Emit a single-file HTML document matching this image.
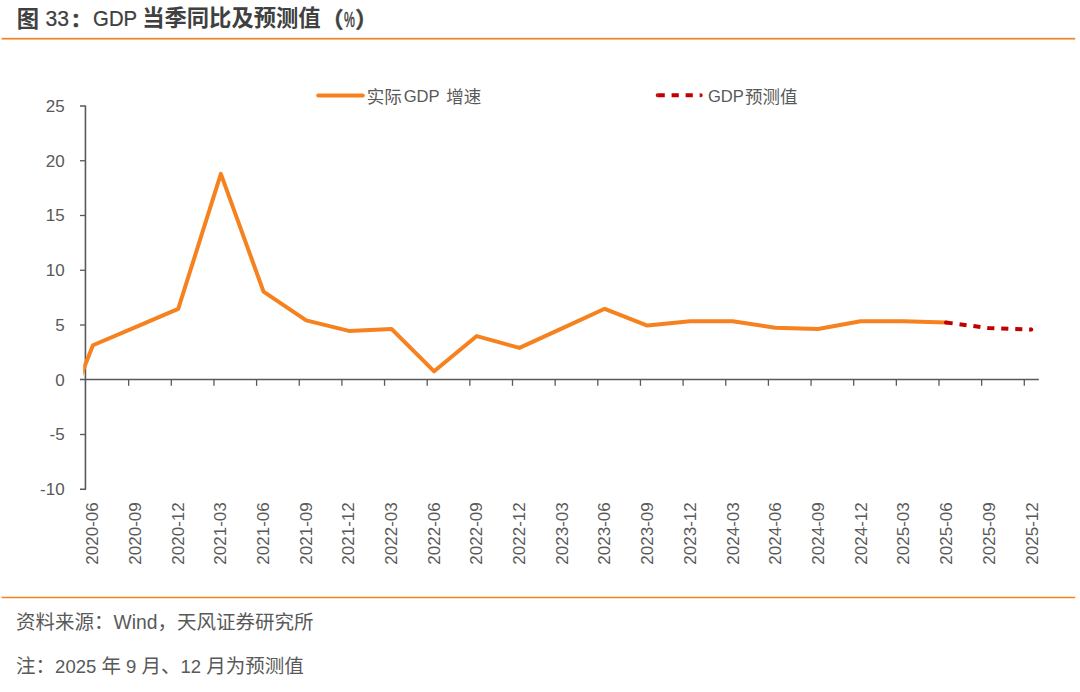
<!DOCTYPE html>
<html><head><meta charset="utf-8"><title>图 33：GDP 当季同比及预测值（%）</title>
<style>
html,body{margin:0;padding:0;background:#fff;}
body{width:1080px;height:692px;position:relative;overflow:hidden;}
.chart{position:absolute;left:0;top:0;display:block;}
</style></head><body>
<svg class="chart" width="1080" height="692" viewBox="0 0 1080 692">
<defs><clipPath id="pa"><rect x="83.2" y="60" width="960" height="440"/></clipPath></defs>
<rect x="1.6" y="37.85" width="1073.6" height="1.7" fill="#F5821F"/>
<rect x="1.6" y="596.75" width="1073.6" height="1.5" fill="#F5821F"/>
<g stroke="#57595c" fill="none" stroke-linecap="butt">
<path d="M80,106.00 H85.44 V489.25 H80" stroke-width="1.6" stroke-linejoin="round"/>
<line x1="80" y1="434.50" x2="85.44" y2="434.50" stroke-width="1.3"/>
<line x1="80" y1="325.00" x2="85.44" y2="325.00" stroke-width="1.3"/>
<line x1="80" y1="270.25" x2="85.44" y2="270.25" stroke-width="1.3"/>
<line x1="80" y1="215.50" x2="85.44" y2="215.50" stroke-width="1.3"/>
<line x1="80" y1="160.75" x2="85.44" y2="160.75" stroke-width="1.3"/>
<line x1="80" y1="379.45" x2="1038.8" y2="379.45" stroke-width="1.6"/>
<line x1="128.65" y1="379.45" x2="128.65" y2="385.8" stroke-width="1.3"/>
<line x1="171.30" y1="379.45" x2="171.30" y2="385.8" stroke-width="1.3"/>
<line x1="213.95" y1="379.45" x2="213.95" y2="385.8" stroke-width="1.3"/>
<line x1="256.60" y1="379.45" x2="256.60" y2="385.8" stroke-width="1.3"/>
<line x1="299.25" y1="379.45" x2="299.25" y2="385.8" stroke-width="1.3"/>
<line x1="341.90" y1="379.45" x2="341.90" y2="385.8" stroke-width="1.3"/>
<line x1="384.55" y1="379.45" x2="384.55" y2="385.8" stroke-width="1.3"/>
<line x1="427.20" y1="379.45" x2="427.20" y2="385.8" stroke-width="1.3"/>
<line x1="469.85" y1="379.45" x2="469.85" y2="385.8" stroke-width="1.3"/>
<line x1="512.50" y1="379.45" x2="512.50" y2="385.8" stroke-width="1.3"/>
<line x1="555.15" y1="379.45" x2="555.15" y2="385.8" stroke-width="1.3"/>
<line x1="597.80" y1="379.45" x2="597.80" y2="385.8" stroke-width="1.3"/>
<line x1="640.45" y1="379.45" x2="640.45" y2="385.8" stroke-width="1.3"/>
<line x1="683.10" y1="379.45" x2="683.10" y2="385.8" stroke-width="1.3"/>
<line x1="725.75" y1="379.45" x2="725.75" y2="385.8" stroke-width="1.3"/>
<line x1="768.40" y1="379.45" x2="768.40" y2="385.8" stroke-width="1.3"/>
<line x1="811.05" y1="379.45" x2="811.05" y2="385.8" stroke-width="1.3"/>
<line x1="853.70" y1="379.45" x2="853.70" y2="385.8" stroke-width="1.3"/>
<line x1="896.35" y1="379.45" x2="896.35" y2="385.8" stroke-width="1.3"/>
<line x1="939.00" y1="379.45" x2="939.00" y2="385.8" stroke-width="1.3"/>
<line x1="981.65" y1="379.45" x2="981.65" y2="385.8" stroke-width="1.3"/>
<line x1="1024.30" y1="379.45" x2="1024.30" y2="385.8" stroke-width="1.3"/>
</g>
<path d="M50.27,454.21 L92.92,345.26 L135.57,327.19 L178.22,308.90 L220.87,173.89 L263.52,291.60 L306.17,320.40 L348.82,330.91 L391.47,328.94 L434.12,371.32 L476.77,336.06 L519.42,347.89 L562.07,328.39 L604.72,308.79 L647.37,325.55 L690.02,321.28 L732.67,321.28 L775.32,327.74 L817.97,329.05 L860.62,321.28 L903.27,321.28 L945.92,322.48" fill="none" stroke="#F5821F" stroke-width="4" stroke-linejoin="round" stroke-linecap="butt" clip-path="url(#pa)"/>
<path d="M945.92,322.48 L988.57,328.07 L1031.22,329.60" fill="none" stroke="#C00000" stroke-width="4" stroke-dasharray="7.1 6.9" stroke-dashoffset="0.3" stroke-linejoin="round" stroke-linecap="butt"/>
<circle cx="945.92" cy="322.48" r="2" fill="#C00000"/>
<circle cx="1031.22" cy="329.60" r="2" fill="#C00000"/>
<g font-family="Liberation Sans, Arial, sans-serif" font-size="17" fill="#595959" text-anchor="end">
<text x="64.6" y="495.05">-10</text>
<text x="64.6" y="440.30">-5</text>
<text x="64.6" y="385.55">0</text>
<text x="64.6" y="330.80">5</text>
<text x="64.6" y="276.05">10</text>
<text x="64.6" y="221.30">15</text>
<text x="64.6" y="166.55">20</text>
<text x="64.6" y="111.80">25</text>
</g>
<g font-family="Liberation Sans, Arial, sans-serif" font-size="17" fill="#595959" text-anchor="end">
<text transform="translate(98.42,502.3) rotate(-90)">2020-06</text>
<text transform="translate(141.07,502.3) rotate(-90)">2020-09</text>
<text transform="translate(183.72,502.3) rotate(-90)">2020-12</text>
<text transform="translate(226.37,502.3) rotate(-90)">2021-03</text>
<text transform="translate(269.02,502.3) rotate(-90)">2021-06</text>
<text transform="translate(311.67,502.3) rotate(-90)">2021-09</text>
<text transform="translate(354.32,502.3) rotate(-90)">2021-12</text>
<text transform="translate(396.97,502.3) rotate(-90)">2022-03</text>
<text transform="translate(439.62,502.3) rotate(-90)">2022-06</text>
<text transform="translate(482.27,502.3) rotate(-90)">2022-09</text>
<text transform="translate(524.92,502.3) rotate(-90)">2022-12</text>
<text transform="translate(567.57,502.3) rotate(-90)">2023-03</text>
<text transform="translate(610.31,502.3) rotate(-90)">2023-06</text>
<text transform="translate(653.05,502.3) rotate(-90)">2023-09</text>
<text transform="translate(695.79,502.3) rotate(-90)">2023-12</text>
<text transform="translate(738.53,502.3) rotate(-90)">2024-03</text>
<text transform="translate(781.27,502.3) rotate(-90)">2024-06</text>
<text transform="translate(824.01,502.3) rotate(-90)">2024-09</text>
<text transform="translate(866.75,502.3) rotate(-90)">2024-12</text>
<text transform="translate(909.49,502.3) rotate(-90)">2025-03</text>
<text transform="translate(952.23,502.3) rotate(-90)">2025-06</text>
<text transform="translate(994.97,502.3) rotate(-90)">2025-09</text>
<text transform="translate(1037.71,502.3) rotate(-90)">2025-12</text>
</g>
<line x1="318.2" y1="95.4" x2="362.8" y2="95.4" stroke="#F5821F" stroke-width="4" stroke-linecap="round"/>
<line x1="657.6" y1="95.2" x2="700.8" y2="95.2" stroke="#C00000" stroke-width="4" stroke-dasharray="7.2 6.8"/>
<path d="M657.7,97.2 A2,2 0 0 1 657.7,93.2 Z M700.7,93.2 A2,2 0 0 1 700.7,97.2 Z" fill="#C00000"/>
<g fill="#595959">
<text x="366.8" y="103.2" font-family="Liberation Sans, Noto Sans CJK SC, sans-serif" font-size="17.5">实际</text>
<text x="403.7" y="102.3" font-family="Liberation Sans, Arial, sans-serif" font-size="16.6">GDP</text>
<text x="446.2" y="103.2" font-family="Liberation Sans, Noto Sans CJK SC, sans-serif" font-size="17.5">增速</text>
<text x="707.9" y="102.3" font-family="Liberation Sans, Arial, sans-serif" font-size="16.6">GDP</text>
<text x="744.9" y="103.2" font-family="Liberation Sans, Noto Sans CJK SC, sans-serif" font-size="17.5">预测值</text>
</g>
<g fill="#404040">
<text x="16.8" y="26.6" font-family="Liberation Sans, Noto Sans CJK SC, sans-serif" font-weight="bold" font-size="22.3">图</text>
<text transform="translate(45.6,26.1) scale(0.98,1)" font-family="Liberation Sans, Arial, sans-serif" font-size="21.6" stroke="#404040" stroke-width="0.25">33</text>
<text x="70.9" y="26.9" font-family="Liberation Sans, Noto Sans CJK SC, sans-serif" font-weight="bold" font-size="19.5" stroke="#404040" stroke-width="0.7">：</text>
<text transform="translate(93.1,26.3) scale(0.94,1)" font-family="Liberation Sans, Arial, sans-serif" font-size="21.6" stroke="#404040" stroke-width="0.25">GDP</text>
<text x="142.2" y="26.4" font-family="Liberation Sans, Noto Sans CJK SC, sans-serif" font-weight="bold" font-size="22.3">当季同比及预测值</text>
<text x="321.6" y="26.8" font-family="Liberation Sans, Noto Sans CJK SC, sans-serif" font-weight="bold" font-size="22" stroke="#404040" stroke-width="0.5">（</text>
<text transform="translate(343.9,26.8) scale(0.57,1)" font-family="Liberation Sans, Arial, sans-serif" font-size="21.5" stroke="#404040" stroke-width="0.5">%</text>
<text x="355.2" y="26.8" font-family="Liberation Sans, Noto Sans CJK SC, sans-serif" font-weight="bold" font-size="22" stroke="#404040" stroke-width="0.5">）</text>
</g>
<g fill="#595959" font-family="Liberation Sans, Arial, sans-serif" font-size="18.5">
<text x="16.1" y="628.5"><tspan font-family="Liberation Sans, Noto Sans CJK SC, sans-serif" font-size="19.5">资料来源：</tspan><tspan font-size="19.3">Wind</tspan><tspan font-family="Liberation Sans, Noto Sans CJK SC, sans-serif" font-size="19.5">，天风证券研究所</tspan></text>
<text x="16.1" y="672.6"><tspan font-family="Liberation Sans, Noto Sans CJK SC, sans-serif" font-size="19.5">注：</tspan>2025 <tspan font-family="Liberation Sans, Noto Sans CJK SC, sans-serif" font-size="19.5">年</tspan> 9 <tspan font-family="Liberation Sans, Noto Sans CJK SC, sans-serif" font-size="19.5">月、</tspan>12 <tspan font-family="Liberation Sans, Noto Sans CJK SC, sans-serif" font-size="19.5">月为预测值</tspan></text>
</g>
</svg>
</body></html>
